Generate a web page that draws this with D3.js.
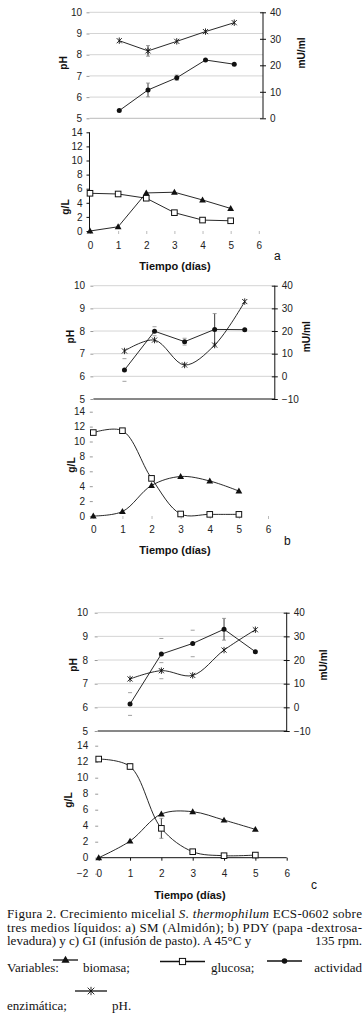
<!DOCTYPE html>
<html><head><meta charset="utf-8">
<script src="https://cdn.jsdelivr.net/npm/d3@7"></script>
<style>body{margin:0;background:#fff} svg{display:block}
.cap text{font-family:'Liberation Serif','Times New Roman',Times,serif;font-size:13px;fill:#111}
</style>
</head><body>
<svg id="chart" width="364" height="1023"></svg>
<script>
// ---------- DATA ----------
const daysTop = [1, 2, 3, 4, 5];
const daysBot = [0, 1, 2, 3, 4, 5];
const xTicks = [0, 1, 2, 3, 4, 5, 6];
const pHTicks = [5, 6, 7, 8, 9, 10];
const mUTicksA = [0, 10, 20, 30, 40];
const mUTicksBC = [-10, 0, 10, 20, 30, 40];
const gTicksAB = [0, 2, 4, 6, 8, 10, 12, 14];
const gTicksC = [-2, 0, 2, 4, 6, 8, 10, 12, 14];

// panel a: SM (Almidón)
const pH_a = [8.66, 8.18, 8.63, 9.09, 9.51];
const pHErr_a = [0, 0.25, 0, 0, 0];
const act_a = [2.9, 10.7, 15.3, 22.0, 20.4];
const actErr_a = [0, 2.6, 1.0, 0, 0];
const bio_a = [0, 0.6, 5.4, 5.5, 4.4, 3.2];
const glu_a = [5.35, 5.25, 4.65, 2.6, 1.55, 1.45];

// panel b: PDY
const pH_b = [7.12, 7.60, 6.50, 7.38, 9.30];
const pHErr_b = [0, 0, 0, 0, 0];
const act_b = [2.8, 19.9, 15.3, 20.7, 20.6];
const actErr_b = [5.0, 2.0, 1.5, 7.0, 0];
const bio_b = [0, 0.6, 4.1, 5.3, 4.7, 3.35];
const glu_b = [11.2, 11.45, 5.05, 0.27, 0.22, 0.22];

// panel c: GI
const pH_c = [7.2, 7.55, 7.35, 8.42, 9.28];
const pHErr_c = [0, 0.34, 0, 0, 0];
const act_c = [1.4, 22.5, 27.0, 33.0, 23.5];
const actErr_c = [4.8, 6.6, 5.6, 4.6, 0];
const bio_c = [0, 2.08, 5.46, 5.75, 4.7, 3.54];
const glu_c = [12.33, 11.4, 3.67, 0.75, 0.25, 0.33];
const gluErr_c = [0, 0.3, 1.25, 0, 0, 0];

// ---------- DRAWING ----------
const svg = d3.select('#chart');
const SANS = '"Liberation Sans", Arial, sans-serif';
const INK = '#111';

function starPath(r) {
  const d = r * 0.8;
  return `M${-d},${-d}L${d},${d}M${-d},${d}L${d},${-d}M0,${-r}L0,${r}`;
}
function drawMarker(g, type, x, y, s = 1) {
  if (type === 'tri') {
    g.append('path').attr('d', d3.symbol(d3.symbolTriangle, 20 * s * s)())
      .attr('transform', `translate(${x},${y + 0.5})`).attr('fill', INK);
  } else if (type === 'sq') {
    const w = 5.6 * s;
    g.append('rect').attr('x', x - w / 2).attr('y', y - w / 2).attr('width', w).attr('height', w)
      .attr('fill', '#fff').attr('stroke', INK).attr('stroke-width', 1);
  } else if (type === 'dot') {
    g.append('circle').attr('cx', x).attr('cy', y).attr('r', 2.5 * s).attr('fill', INK);
  } else if (type === 'star') {
    g.append('path').attr('d', starPath(3.2 * s)).attr('transform', `translate(${x},${y})`)
      .attr('stroke', INK).attr('stroke-width', 0.9).attr('fill', 'none');
  }
}
// stems: indices whose vertical stem is visible (others show caps only)
function errBars(g, xs, ys, errs, x, y, stems) {
  xs.forEach((d, i) => {
    const e = errs[i];
    if (!e) return;
    const px = x(d), y1 = y(ys[i] + e), y2 = y(ys[i] - e);
    if (stems.includes(i))
      g.append('line').attr('x1', px).attr('x2', px).attr('y1', y1).attr('y2', y2)
        .attr('stroke', '#222').attr('stroke-width', 0.9);
    [y1, y2].forEach(yy => g.append('line').attr('x1', px - 2).attr('x2', px + 2)
      .attr('y1', yy).attr('y2', yy).attr('stroke', '#888').attr('stroke-width', 0.8));
  });
}
function series(g, xs, ys, x, y, curve, marker) {
  const line = d3.line().x((d, i) => x(xs[i])).y(d => y(d)).curve(curve);
  g.append('path').attr('d', line(ys)).attr('fill', 'none').attr('stroke', INK).attr('stroke-width', 0.9);
  ys.forEach((v, i) => drawMarker(g, marker, x(xs[i]), y(v)));
}
function styleTickText(sel, size = 10) {
  sel.selectAll('text').attr('font-family', SANS).attr('font-size', size).attr('fill', '#222');
}
function rotLabel(x, y, txt) {
  svg.append('text').attr('transform', `translate(${x},${y}) rotate(-90)`)
    .attr('text-anchor', 'middle').attr('dy', '0.35em')
    .attr('font-family', SANS).attr('font-size', 10.2).attr('font-weight', 'bold').attr('fill', '#111')
    .text(txt);
}

function drawTop(cfg, pH, pHErr, act, actErr) {
  const g = svg.append('g');
  const x = d3.scaleLinear().domain([0, 6]).range(cfg.x);
  const yP = d3.scaleLinear().domain([5, 10]).range([cfg.yb, cfg.yt]);
  const yM = d3.scaleLinear().domain(cfg.mU).range([cfg.yb, cfg.yt]);
  pHTicks.forEach(t => {
    g.append('line').attr('x1', cfg.x[0] - 1).attr('x2', cfg.x[1]).attr('y1', yP(t)).attr('y2', yP(t))
      .attr('stroke', t === 5 ? cfg.baseColor : '#cfcfcf').attr('stroke-width', t === 5 ? 1 : 0.9);
  });
  const la = g.append('g').attr('transform', `translate(${cfg.x[0] - 1},0)`)
    .call(d3.axisLeft(yP).tickValues(pHTicks).tickSize(3).tickPadding(cfg.pad).tickFormat(d3.format('d')));
  la.select('.domain').remove();
  la.selectAll('.tick line').attr('stroke', '#999');
  styleTickText(la);
  const ra = g.append('g').attr('transform', `translate(${cfg.x[1]},0)`)
    .call(d3.axisRight(yM).tickValues(cfg.mUTicks).tickSize(3).tickPadding(4).tickFormat(d3.format('d')));
  ra.select('.domain').attr('stroke', INK).attr('d', `M0,${cfg.yt}V${cfg.yb}`);
  ra.selectAll('.tick line').attr('x1', -3).attr('x2', 3).attr('stroke', INK);
  styleTickText(ra);
  errBars(g, daysTop, act, actErr, x, yM, cfg.actStems);
  errBars(g, daysTop, pH, pHErr, x, yP, cfg.pHStems);
  series(g, daysTop, act, x, yM, d3.curveLinear, 'dot');
  series(g, daysTop, pH, x, yP, cfg.smoothPH ? d3.curveCatmullRom.alpha(0.5) : d3.curveLinear, 'star');
  rotLabel(cfg.pHLab[0], cfg.pHLab[1], 'pH');
  rotLabel(cfg.mULab[0], cfg.mULab[1], 'mU/ml');
}

function drawBot(cfg, bio, glu, gluErr) {
  const g = svg.append('g');
  const x = d3.scaleLinear().domain([0, 6]).range(cfg.x);
  const y = d3.scaleLinear().domain([cfg.gTicks[0], 14]).range([cfg.yb, cfg.yt]);
  const la = g.append('g').attr('transform', `translate(${cfg.x[0] - 0.5},0)`)
    .call(d3.axisLeft(y).tickValues(cfg.gTicks).tickSize(3).tickPadding(cfg.pad).tickFormat(d3.format('d')));
  if (cfg.yLine) la.select('.domain').attr('stroke', INK).attr('d', `M0,${y(0)}V${cfg.yt}`);
  else la.select('.domain').remove();
  la.selectAll('.tick line').attr('stroke', cfg.yLine ? INK : '#999');
  styleTickText(la);
  const ba = g.append('g').attr('transform', `translate(0,${y(0)})`)
    .call(d3.axisBottom(x).tickValues(xTicks).tickSize(3).tickFormat(d3.format('d')));
  if (cfg.xLine) ba.select('.domain').attr('stroke', INK).attr('d', `M${cfg.x[0]},0H${cfg.x[1]}`);
  else ba.select('.domain').remove();
  ba.selectAll('.tick line').attr('stroke', cfg.xLine ? INK : '#bbb');
  ba.selectAll('.tick text').attr('y', cfg.xLabOff).attr('dy', '0.35em');
  styleTickText(ba);
  if (gluErr) errBars(g, daysBot, glu, gluErr, x, y, cfg.gluStems);
  series(g, daysBot, bio, x, y, cfg.smooth ? d3.curveCatmullRom.alpha(0.5) : d3.curveLinear, 'tri');
  series(g, daysBot, glu, x, y, cfg.smooth ? d3.curveCatmullRom.alpha(0.5) : d3.curveLinear, 'sq');
  rotLabel(cfg.gLab[0], cfg.gLab[1], 'g/L');
  svg.append('text').attr('x', cfg.tLab[0]).attr('y', cfg.tLab[1]).attr('text-anchor', 'middle')
    .attr('dy', '0.35em').attr('font-family', SANS).attr('font-size', 11).attr('font-weight', 'bold')
    .attr('fill', '#111').text('Tiempo (días)');
  svg.append('text').attr('x', cfg.letter[0]).attr('y', cfg.letter[1]).attr('dy', '0.35em')
    .attr('font-family', SANS).attr('font-size', 12).attr('fill', '#111').text(cfg.letter[2]);
}

// panel a
drawTop({x: [90.5, 263], yt: 12.3, yb: 118.3, mU: [0, 40], mUTicks: mUTicksA, baseColor: '#bbb', pad: 4.5,
  smoothPH: false, pHLab: [63.5, 63], mULab: [301.5, 53], actStems: [1, 2], pHStems: [1]},
  pH_a, pHErr_a, act_a, actErr_a);
drawBot({x: [90, 258.8], yt: 132.3, yb: 231, gTicks: gTicksAB, yLine: true, xLine: false, xLabOff: 14, pad: 4,
  smooth: false, gLab: [65, 207], tLab: [175, 266], letter: [274, 256, 'a']}, bio_a, glu_a, null);

// panel b
drawTop({x: [94.4, 274.8], yt: 285.7, yb: 399, mU: [-10, 40], mUTicks: mUTicksBC, baseColor: INK, pad: 5.4,
  smoothPH: true, pHLab: [70, 336.7], mULab: [306.7, 336.7], actStems: [3], pHStems: []},
  pH_b, pHErr_b, act_b, actErr_b);
drawBot({x: [93.3, 268], yt: 411.7, yb: 516, gTicks: gTicksAB, yLine: false, xLine: false, xLabOff: 13, pad: 4.8,
  smooth: true, gLab: [71.7, 465], tLab: [175, 550], letter: [284, 541, 'b']}, bio_b, glu_b, null);

// panel c
drawTop({x: [98.7, 286.7], yt: 612.7, yb: 731, mU: [-10, 40], mUTicks: mUTicksBC, baseColor: INK, pad: 6.7,
  smoothPH: true, pHLab: [73, 665], mULab: [323, 665], actStems: [3], pHStems: []},
  pH_c, pHErr_c, act_c, actErr_c);
drawBot({x: [98.7, 286.7], yt: 745.7, yb: 873.7, gTicks: gTicksC, yLine: false, xLine: true, xLabOff: 16, pad: 7,
  smooth: true, gLab: [68.3, 800], tLab: [190, 895], letter: [311, 885, 'c'], gluStems: [2]},
  bio_c, glu_c, gluErr_c);

// ---------- CAPTION ----------
const cap = svg.append('g').attr('class', 'cap');
const l1 = cap.append('text').attr('x', 7).attr('y', 918).attr('textLength', 355).attr('lengthAdjust', 'spacing');
l1.append('tspan').text('Figura 2. Crecimiento micelial ');
l1.append('tspan').attr('font-style', 'italic').text('S. thermophilum');
l1.append('tspan').text(' ECS-0602 sobre');
cap.append('text').attr('x', 7).attr('y', 931.5).attr('textLength', 355).attr('lengthAdjust', 'spacing')
  .text('tres medios líquidos:  a) SM (Almidón); b) PDY (papa -dextrosa-');
cap.append('text').attr('x', 7).attr('y', 945).text('levadura) y c) GI (infusión de pasto). A 45°C y');
cap.append('text').attr('x', 362).attr('y', 945).attr('text-anchor', 'end').text('135 rpm.');
cap.append('text').attr('x', 7).attr('y', 972).text('Variables:');
cap.append('text').attr('x', 83).attr('y', 972).text('biomasa;');
cap.append('text').attr('x', 211).attr('y', 972).text('glucosa;');
cap.append('text').attr('x', 362).attr('y', 972).attr('text-anchor', 'end').text('actividad');
cap.append('text').attr('x', 7).attr('y', 1010).text('enzimática;');
cap.append('text').attr('x', 112).attr('y', 1010).text('pH.');

function legendItem(x1, x2, y, type, s) {
  cap.append('line').attr('x1', x1).attr('x2', x2).attr('y1', y).attr('y2', y)
    .attr('stroke', INK).attr('stroke-width', 1.3);
  drawMarker(cap, type, (x1 + x2) / 2, y, s);
}
legendItem(53, 78, 960, 'tri', 1.2);
legendItem(160, 205, 961.5, 'sq', 1.1);
legendItem(267, 302, 961, 'dot', 1.1);
legendItem(75, 107, 991, 'star', 1.3);
</script>
</body></html>
